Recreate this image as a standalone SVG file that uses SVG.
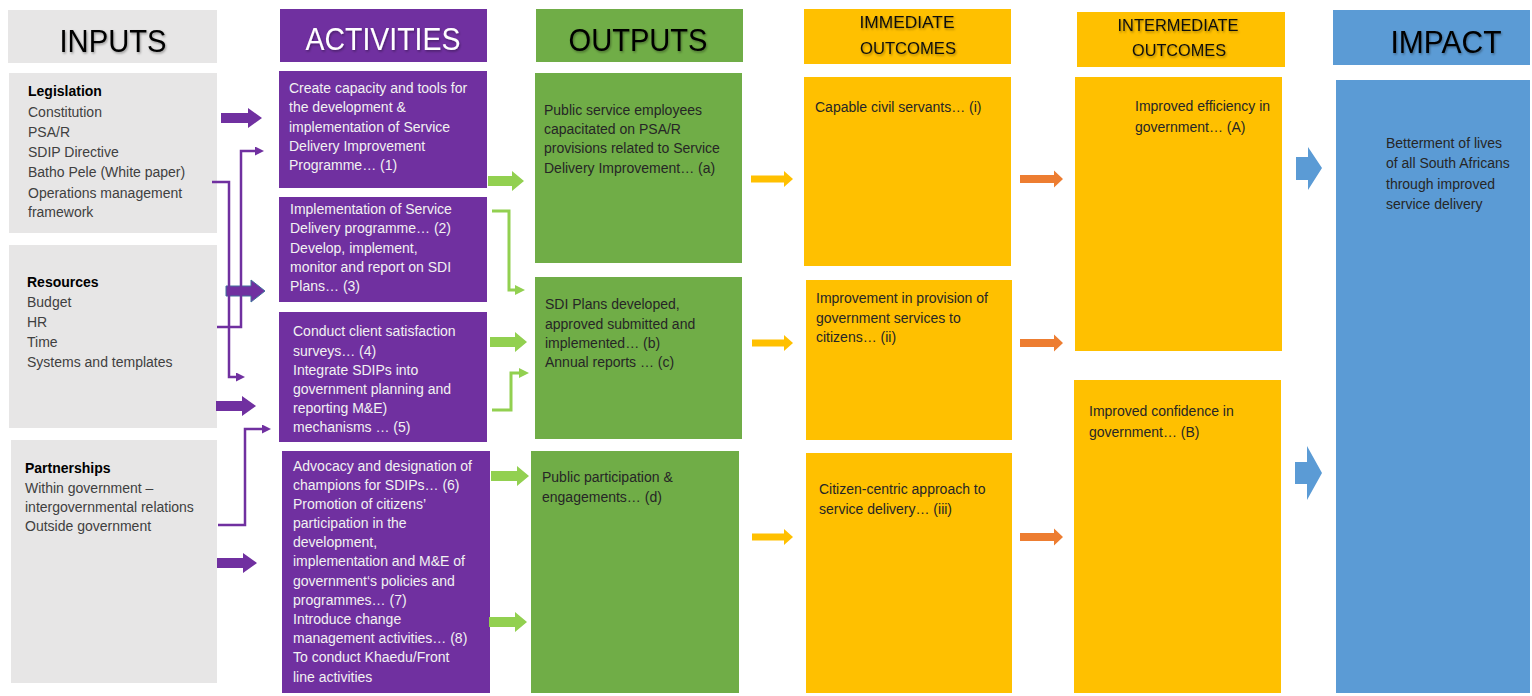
<svg xmlns="http://www.w3.org/2000/svg" width="1532" height="696" viewBox="0 0 1532 696">
<defs>
<style>
.t{font-family:"Liberation Sans",Arial,sans-serif;font-size:14px}
.gray{fill:#e7e6e6}.pur{fill:#7030a0}.grn{fill:#70ad47}.yel{fill:#ffc000}.blu{fill:#5b9bd5}
.dk{fill:#404040}.bk{fill:#000}.wt{fill:#f2f2f2}.tx{fill:#262626}
.h{font-family:"Liberation Sans",Arial,sans-serif;font-size:31px;text-anchor:middle}
.h2{font-family:"Liberation Sans",Arial,sans-serif;font-size:17px;text-anchor:middle;fill:#111}
.b{font-weight:bold}
.pl{fill:none;stroke:#7030a0;stroke-width:2.5}
.gl{fill:none;stroke:#92d050;stroke-width:3}
.pa{fill:#7030a0}.ga{fill:#92d050}.ya{fill:#ffc000}.oa{fill:#ed7d31}.ba{fill:#5b9bd5}
</style>
<filter id="sh" x="-10%" y="-10%" width="130%" height="140%"><feDropShadow dx="1" dy="1.5" stdDeviation="1" flood-color="#000" flood-opacity="0.35"/></filter>
<marker id="mp" markerUnits="userSpaceOnUse" markerWidth="9" markerHeight="9" refX="0" refY="4.5" orient="auto"><path d="M0,0 L9,4.5 L0,9 z" fill="#7030a0"/></marker>
<marker id="mg" markerUnits="userSpaceOnUse" markerWidth="10" markerHeight="10" refX="0" refY="5" orient="auto"><path d="M0,0 L10,5 L0,10 z" fill="#92d050"/></marker>
</defs>
<rect width="1532" height="696" fill="#fff"/>

<!-- Headers -->
<g id="h-inputs"><rect class="gray" x="8" y="10" width="209" height="53"/><text class="h bk" x="113" y="52" textLength="107" lengthAdjust="spacingAndGlyphs" filter="url(#sh)">INPUTS</text></g>
<g id="h-activities"><rect class="pur" x="280" y="9" width="207" height="53"/><text class="h" x="383" y="50" fill="#fff" textLength="155" lengthAdjust="spacingAndGlyphs" filter="url(#sh)">ACTIVITIES</text></g>
<g id="h-outputs"><rect class="grn" x="536" y="9" width="207" height="53"/><text class="h bk" x="638" y="51" textLength="139" lengthAdjust="spacingAndGlyphs" filter="url(#sh)">OUTPUTS</text></g>
<g id="h-immediate"><rect class="yel" x="804" y="9" width="207" height="55"/><text class="h2" x="907" y="28" textLength="95" lengthAdjust="spacingAndGlyphs" filter="url(#sh)">IMMEDIATE</text><text class="h2" x="908" y="54" textLength="96" lengthAdjust="spacingAndGlyphs" filter="url(#sh)">OUTCOMES</text></g>
<g id="h-intermediate"><rect class="yel" x="1077" y="12" width="208" height="55"/><text class="h2" x="1178" y="31" textLength="121" lengthAdjust="spacingAndGlyphs" filter="url(#sh)">INTERMEDIATE</text><text class="h2" x="1179" y="56" textLength="94" lengthAdjust="spacingAndGlyphs" filter="url(#sh)">OUTCOMES</text></g>
<g id="h-impact"><rect class="blu" x="1333" y="10" width="197" height="55"/><text class="h bk" x="1446" y="53" textLength="111" lengthAdjust="spacingAndGlyphs" filter="url(#sh)">IMPACT</text></g>

<!-- Inputs -->
<g id="in-legislation"><rect class="gray" x="9" y="73" width="208" height="160"/>
<text class="t bk b" x="28" y="96">Legislation</text>
<text class="t dk" x="28" y="117">Constitution</text>
<text class="t dk" x="28" y="137">PSA/R</text>
<text class="t dk" x="28" y="157">SDIP Directive</text>
<text class="t dk" x="28" y="177">Batho Pele (White paper)</text>
<text class="t dk" x="28" y="198">Operations management</text>
<text class="t dk" x="28" y="217">framework</text></g>
<g id="in-resources"><rect class="gray" x="9" y="245" width="208" height="183"/>
<text class="t bk b" x="27" y="287">Resources</text>
<text class="t dk" x="27" y="307">Budget</text>
<text class="t dk" x="27" y="327">HR</text>
<text class="t dk" x="27" y="347">Time</text>
<text class="t dk" x="27" y="367">Systems and templates</text></g>
<g id="in-partnerships"><rect class="gray" x="11" y="440" width="206" height="243"/>
<text class="t bk b" x="25" y="473">Partnerships</text>
<text class="t dk" x="25" y="493">Within government –</text>
<text class="t dk" x="25" y="512">intergovernmental relations</text>
<text class="t dk" x="25" y="531">Outside government</text></g>

<!-- Activities -->
<g id="act-1"><rect class="pur" x="279" y="71" width="208" height="117"/>
<text class="t wt" x="289" y="93">Create capacity and tools for</text>
<text class="t wt" x="289" y="112">the development &amp;</text>
<text class="t wt" x="289" y="132">implementation of Service</text>
<text class="t wt" x="289" y="151">Delivery Improvement</text>
<text class="t wt" x="289" y="170">Programme… (1)</text></g>
<g id="act-2"><rect class="pur" x="279" y="197" width="208" height="105"/>
<text class="t wt" x="290" y="214">Implementation of Service</text>
<text class="t wt" x="290" y="233">Delivery programme… (2)</text>
<text class="t wt" x="290" y="253">Develop, implement,</text>
<text class="t wt" x="290" y="272">monitor and report on SDI</text>
<text class="t wt" x="290" y="291">Plans… (3)</text></g>
<g id="act-3"><rect class="pur" x="279" y="312" width="208" height="130"/>
<text class="t wt" x="293" y="336">Conduct client satisfaction</text>
<text class="t wt" x="293" y="356">surveys… (4)</text>
<text class="t wt" x="293" y="375">Integrate SDIPs into</text>
<text class="t wt" x="293" y="394">government planning and</text>
<text class="t wt" x="293" y="413">reporting M&amp;E)</text>
<text class="t wt" x="293" y="432">mechanisms … (5)</text></g>
<g id="act-4"><rect class="pur" x="282" y="451" width="208" height="242"/>
<text class="t wt" x="293" y="471">Advocacy and designation of</text>
<text class="t wt" x="293" y="490">champions for SDIPs… (6)</text>
<text class="t wt" x="293" y="509">Promotion of citizens’</text>
<text class="t wt" x="293" y="528">participation in the</text>
<text class="t wt" x="293" y="547">development,</text>
<text class="t wt" x="293" y="566">implementation and M&amp;E of</text>
<text class="t wt" x="293" y="586">government‘s policies and</text>
<text class="t wt" x="293" y="605">programmes… (7)</text>
<text class="t wt" x="293" y="624">Introduce change</text>
<text class="t wt" x="293" y="643">management activities… (8)</text>
<text class="t wt" x="293" y="662">To conduct Khaedu/Front</text>
<text class="t wt" x="293" y="682">line activities</text></g>

<!-- Outputs -->
<g id="out-a"><rect class="grn" x="535" y="73" width="207" height="190"/>
<text class="t tx" x="544" y="115">Public service employees</text>
<text class="t tx" x="544" y="134">capacitated on PSA/R</text>
<text class="t tx" x="544" y="153">provisions related to Service</text>
<text class="t tx" x="544" y="173">Delivery Improvement… (a)</text></g>
<g id="out-b"><rect class="grn" x="535" y="277" width="207" height="162"/>
<text class="t tx" x="545" y="309">SDI Plans developed,</text>
<text class="t tx" x="545" y="329">approved submitted and</text>
<text class="t tx" x="545" y="348">implemented… (b)</text>
<text class="t tx" x="545" y="367">Annual reports … (c)</text></g>
<g id="out-d"><rect class="grn" x="531" y="451" width="208" height="242"/>
<text class="t tx" x="542" y="482">Public participation &amp;</text>
<text class="t tx" x="542" y="502">engagements… (d)</text></g>

<!-- Immediate outcomes -->
<g id="imm-i"><rect class="yel" x="804" y="77" width="207" height="189"/>
<text class="t tx" x="815" y="112">Capable civil servants… (i)</text></g>
<g id="imm-ii"><rect class="yel" x="806" y="280" width="206" height="160"/>
<text class="t tx" x="816" y="303">Improvement in provision of</text>
<text class="t tx" x="816" y="323">government services to</text>
<text class="t tx" x="816" y="342">citizens… (ii)</text></g>
<g id="imm-iii"><rect class="yel" x="806" y="453" width="206" height="240"/>
<text class="t tx" x="819" y="494">Citizen-centric approach to</text>
<text class="t tx" x="819" y="514">service delivery… (iii)</text></g>

<!-- Intermediate outcomes -->
<g id="int-a"><rect class="yel" x="1075" y="77" width="207" height="274"/>
<text class="t tx" x="1135" y="111">Improved efficiency in</text>
<text class="t tx" x="1135" y="132">government… (A)</text></g>
<g id="int-b"><rect class="yel" x="1074" y="380" width="207" height="313"/>
<text class="t tx" x="1089" y="416">Improved confidence in</text>
<text class="t tx" x="1089" y="437">government… (B)</text></g>

<!-- Impact -->
<g id="impact"><rect class="blu" x="1336" y="80" width="194" height="613"/>
<text class="t tx" x="1386" y="148">Betterment of lives</text>
<text class="t tx" x="1386" y="168">of all South Africans</text>
<text class="t tx" x="1386" y="189">through improved</text>
<text class="t tx" x="1386" y="209">service delivery</text></g>

<!-- Connectors -->
<g id="connectors">
<!-- purple block arrows -->
<path class="pa" d="M221,113 H248 V108 L262,118 L248,128 V123 H221 Z"/>
<path class="pa" d="M226,286 H251 V280 L265,291 L251,302 V296 H226 Z" stroke="#41719c" stroke-width="1"/>
<path class="pa" d="M216,401 H242 V396 L256,406 L242,416 V411 H216 Z"/>
<path class="pa" d="M217,558 H243 V553 L257,563 L243,573 V568 H217 Z"/>
<!-- purple thin elbows -->
<path class="pl" d="M212,182 H229 V377 H236" marker-end="url(#mp)"/>
<path class="pl" d="M217,327 H241 V151 H255" marker-end="url(#mp)"/>
<path class="pl" d="M218,525 H245 V429 H262" marker-end="url(#mp)"/>
<!-- green block arrows -->
<path class="ga" d="M488,176 H512 V171 L524,181 L512,191 V186 H488 Z"/>
<path class="ga" d="M490,337 H515 V332 L527,342 L515,352 V347 H490 Z"/>
<path class="ga" d="M491,471 H517 V466 L529,476 L517,486 V481 H491 Z"/>
<path class="ga" d="M489,617 H515 V612 L527,622 L515,632 V627 H489 Z"/>
<!-- green thin elbows -->
<path class="gl" d="M492,211 H509 V290 H515" marker-end="url(#mg)"/>
<path class="gl" d="M492,410 H511 V373 H519" marker-end="url(#mg)"/>
<!-- yellow arrows -->
<path class="ya" d="M751,175.5 H784 V171 L793,179 L784,187 V182.5 H751 Z"/>
<path class="ya" d="M752,339.5 H784 V335 L793,343 L784,351 V346.5 H752 Z"/>
<path class="ya" d="M752,533.5 H784 V529 L793,537 L784,545 V540.5 H752 Z"/>
<!-- orange arrows -->
<path class="oa" d="M1020,175 H1054 V170.5 L1063,179 L1054,187.5 V183 H1020 Z"/>
<path class="oa" d="M1020,339 H1054 V334.5 L1063,343 L1054,351.5 V347 H1020 Z"/>
<path class="oa" d="M1020,533 H1054 V528.5 L1063,537 L1054,545.5 V541 H1020 Z"/>
<!-- blue arrows -->
<path class="ba" d="M1296,157 H1308 V147 L1322,168 L1308,190 V180 H1296 Z"/>
<path class="ba" d="M1295,462 H1307 V446 L1322,473 L1307,500 V484 H1295 Z"/>
</g>
</svg>
